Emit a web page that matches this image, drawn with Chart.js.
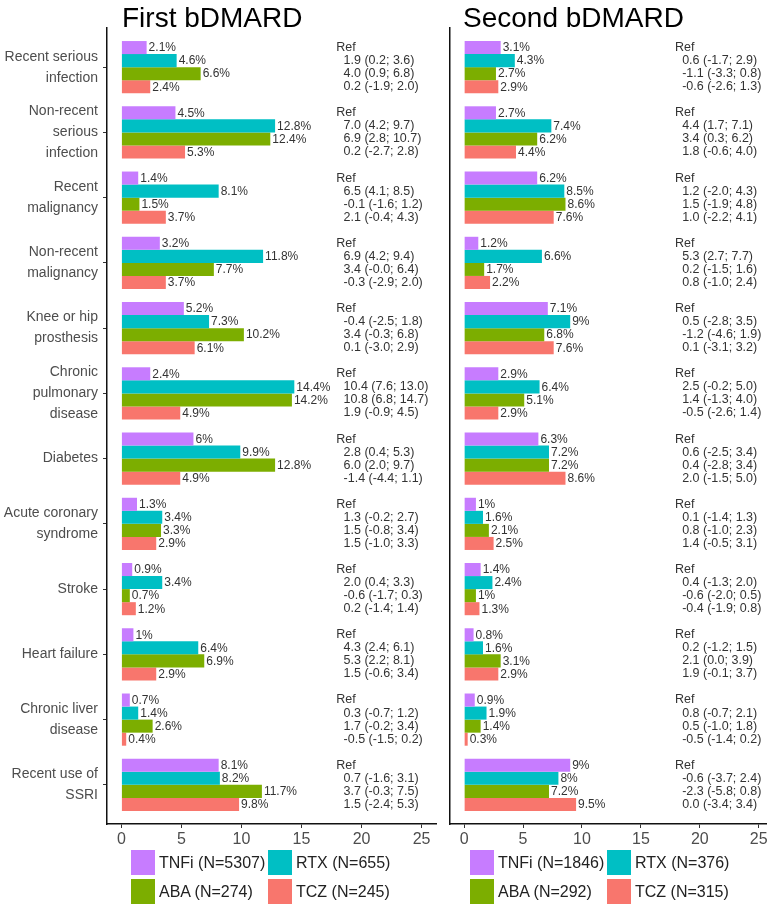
<!DOCTYPE html>
<html><head><meta charset="utf-8">
<script src="https://cdn.jsdelivr.net/npm/chart.js@4.4.1/dist/chart.umd.min.js"></script>
<style>
html,body{margin:0;padding:0;background:#fff;}
#wrap{position:relative;width:767px;height:912px;overflow:hidden;}
canvas{position:absolute;top:0;}
#c1{left:0;} #c2{left:440px;}
.item{position:absolute;display:flex;align-items:center;white-space:nowrap;font:16px "Liberation Sans",Arial,sans-serif;color:#222;height:25px;}
.sw{width:24px;height:25px;margin-right:4px;flex:none;}
</style></head><body>
<div id="wrap">
<canvas id="c1" width="440" height="912"></canvas>
<canvas id="c2" width="327" height="912"></canvas>
<div id="leg"></div>
</div>
<script>
const categories = [
  ["Recent serious","infection"], ["Non-recent","serious","infection"], ["Recent","malignancy"],
  ["Non-recent","malignancy"], ["Knee or hip","prosthesis"], ["Chronic","pulmonary","disease"],
  "Diabetes", ["Acute coronary","syndrome"], "Stroke", "Heart failure", ["Chronic liver","disease"],
  ["Recent use of","SSRI"]
];
const seriesNames = ["TNFi","RTX","ABA","TCZ"];
const panelTitles = ["First bDMARD","Second bDMARD"];
const firstN = [5307,655,274,245];
const secondN = [1846,376,292,315];
const tickValues = [0,5,10,15,20,25];

const firstTNFi = [2.1,4.5,1.4,3.2,5.2,2.4,6,1.3,0.9,1,0.7,8.1];
const firstRTX  = [4.6,12.8,8.1,11.8,7.3,14.4,9.9,3.4,3.4,6.4,1.4,8.2];
const firstABA  = [6.6,12.4,1.5,7.7,10.2,14.2,12.8,3.3,0.7,6.9,2.6,11.7];
const firstTCZ  = [2.4,5.3,3.7,3.7,6.1,4.9,4.9,2.9,1.2,2.9,0.4,9.8];

const secondTNFi = [3.1,2.7,6.2,1.2,7.1,2.9,6.3,1,1.4,0.8,0.9,9];
const secondRTX  = [4.3,7.4,8.5,6.6,9,6.4,7.2,1.6,2.4,1.6,1.9,8];
const secondABA  = [2.7,6.2,8.6,1.7,6.8,5.1,7.2,2.1,1,3.1,1.4,7.2];
const secondTCZ  = [2.9,4.4,7.6,2.2,7.6,2.9,8.6,2.5,1.3,2.9,0.3,9.5];

const refLabel = "Ref";
const firstRTXdiff = ["1.9 (0.2; 3.6)","7.0 (4.2; 9.7)","6.5 (4.1; 8.5)","6.9 (4.2; 9.4)","-0.4 (-2.5; 1.8)","10.4 (7.6; 13.0)","2.8 (0.4; 5.3)","1.3 (-0.2; 2.7)","2.0 (0.4; 3.3)","4.3 (2.4; 6.1)","0.3 (-0.7; 1.2)","0.7 (-1.6; 3.1)"];
const firstABAdiff = ["4.0 (0.9; 6.8)","6.9 (2.8; 10.7)","-0.1 (-1.6; 1.2)","3.4 (-0.0; 6.4)","3.4 (-0.3; 6.8)","10.8 (6.8; 14.7)","6.0 (2.0; 9.7)","1.5 (-0.8; 3.4)","-0.6 (-1.7; 0.3)","5.3 (2.2; 8.1)","1.7 (-0.2; 3.4)","3.7 (-0.3; 7.5)"];
const firstTCZdiff = ["0.2 (-1.9; 2.0)","0.2 (-2.7; 2.8)","2.1 (-0.4; 4.3)","-0.3 (-2.9; 2.0)","0.1 (-3.0; 2.9)","1.9 (-0.9; 4.5)","-1.4 (-4.4; 1.1)","1.5 (-1.0; 3.3)","0.2 (-1.4; 1.4)","1.5 (-0.6; 3.4)","-0.5 (-1.5; 0.2)","1.5 (-2.4; 5.3)"];

const secondRTXdiff = ["0.6 (-1.7; 2.9)","4.4 (1.7; 7.1)","1.2 (-2.0; 4.3)","5.3 (2.7; 7.7)","0.5 (-2.8; 3.5)","2.5 (-0.2; 5.0)","0.6 (-2.5; 3.4)","0.1 (-1.4; 1.3)","0.4 (-1.3; 2.0)","0.2 (-1.2; 1.5)","0.8 (-0.7; 2.1)","-0.6 (-3.7; 2.4)"];
const secondABAdiff = ["-1.1 (-3.3; 0.8)","3.4 (0.3; 6.2)","1.5 (-1.9; 4.8)","0.2 (-1.5; 1.6)","-1.2 (-4.6; 1.9)","1.4 (-1.3; 4.0)","0.4 (-2.8; 3.4)","0.8 (-1.0; 2.3)","-0.6 (-2.0; 0.5)","2.1 (0.0; 3.9)","0.5 (-1.0; 1.8)","-2.3 (-5.8; 0.8)"];
const secondTCZdiff = ["-0.6 (-2.6; 1.3)","1.8 (-0.6; 4.0)","1.0 (-2.2; 4.1)","0.8 (-1.0; 2.4)","0.1 (-3.1; 3.2)","-0.5 (-2.6; 1.4)","2.0 (-1.5; 5.0)","1.4 (-0.5; 3.1)","-0.4 (-1.9; 0.8)","1.9 (-0.1; 3.7)","-0.5 (-1.4; 0.2)","0.0 (-3.4; 3.4)"];

const seriesColors = ["#C77CFF","#00BFC4","#7CAE00","#F8766D"];
const FONT = '"Liberation Sans", Arial, sans-serif';
Chart.defaults.font.family = FONT;

const panelText = {
  id: 'panelText',
  afterDatasetsDraw(chart, args, opts) {
    const ctx = chart.ctx, xs = chart.scales.x, ca = chart.chartArea;
    ctx.save();
    ctx.textAlign = 'left';
    ctx.fillStyle = '#000';
    ctx.textBaseline = 'alphabetic';
    ctx.font = '28px ' + FONT;
    ctx.fillText(opts.title, ca.left + opts.titleOffset, 27);
    ctx.fillStyle = '#333';
    ctx.textBaseline = 'middle';
    ctx.font = '12px ' + FONT;
    chart.data.datasets.forEach((ds, k) => {
      chart.getDatasetMeta(k).data.forEach((bar, i) => {
        ctx.fillText(ds.data[i].x + '%', bar.x + 2, bar.y + 0.5);
      });
    });
    ctx.font = '12.5px ' + FONT;
    const xRef = xs.getPixelForValue(17.9), xVal = xs.getPixelForValue(18.5);
    chart.getDatasetMeta(0).data.forEach(bar => ctx.fillText(refLabel, xRef, bar.y));
    opts.notes.forEach((arr, j) => {
      chart.getDatasetMeta(j + 1).data.forEach((bar, i) => ctx.fillText(arr[i], xVal, bar.y));
    });
    ctx.restore();
  }
};

function makeChart(id, title, series, notes, showCats, yWidth, padRight, titleOffset, xMax) {
  return new Chart(document.getElementById(id), {
    type: 'bar',
    data: {
      datasets: series.map((vals, k) => ({
        label: seriesNames[k],
        data: vals.map((v, i) => ({x: v, y: i})),
        backgroundColor: seriesColors[k],
        borderWidth: 0,
        categoryPercentage: 0.8,
        barPercentage: 1.0
      }))
    },
    options: {
      indexAxis: 'y',
      responsive: false,
      animation: false,
      layout: {padding: {top: 28, bottom: 62, left: 0, right: padRight}},
      plugins: {legend: {display: false}, tooltip: {enabled: false}, panelText: {title, notes, titleOffset}},
      scales: {
        x: {
          type: 'linear', min: -1.2, max: xMax,
          afterBuildTicks: s => { s.ticks = tickValues.map(v => ({value: v})); },
          afterFit: s => { s.height = 26; s.paddingLeft = 0; s.paddingRight = 0; },
          grid: {drawOnChartArea: false, drawTicks: true, tickLength: 4, color: '#333', lineWidth: 1},
          border: {display: true, color: '#111', width: 1.5},
          ticks: {font: {size: 16}, color: '#4D4D4D', padding: 2, maxRotation: 0, autoSkip: false}
        },
        y: {
          type: 'linear', reverse: true, min: -0.6, max: 11.6, offset: false,
          afterBuildTicks: s => { s.ticks = categories.map((c, i) => ({value: i})); },
          afterFit: s => { s.width = yWidth; },
          grid: {offset: false, drawOnChartArea: false, drawTicks: showCats, tickLength: 4, color: '#333', lineWidth: 1},
          border: {display: true, color: '#111', width: 1.5},
          ticks: {display: showCats, callback: v => categories[v], font: {size: 14, lineHeight: 1.5}, color: '#4D4D4D', padding: 5, autoSkip: false}
        }
      }
    },
    plugins: [panelText]
  });
}

makeChart('c1', panelTitles[0], [firstTNFi, firstRTX, firstABA, firstTCZ], [firstRTXdiff, firstABAdiff, firstTCZdiff], true, 107, 4, 15, 26.2);
makeChart('c2', panelTitles[1], [secondTNFi, secondRTX, secondABA, secondTCZ], [secondRTXdiff, secondABAdiff, secondTCZdiff], false, 10, 0, 13, 25.7);

// legends
const leg = document.getElementById('leg');
function addLegend(ns, colX, rowY) {
  const order = [[0, 0, 0], [1, 1, 0], [2, 0, 1], [3, 1, 1]];
  order.forEach(([k, c, r]) => {
    const d = document.createElement('div');
    d.className = 'item';
    d.style.left = colX[c] + 'px';
    d.style.top = rowY[r] + 'px';
    const sw = document.createElement('span');
    sw.className = 'sw';
    sw.style.background = seriesColors[k];
    d.appendChild(sw);
    d.appendChild(document.createTextNode(seriesNames[k] + ' (N=' + ns[k] + ')'));
    leg.appendChild(d);
  });
}
addLegend(firstN, [131, 268], [850, 879]);
addLegend(secondN, [470, 607], [850, 879]);
</script>
</body></html>
